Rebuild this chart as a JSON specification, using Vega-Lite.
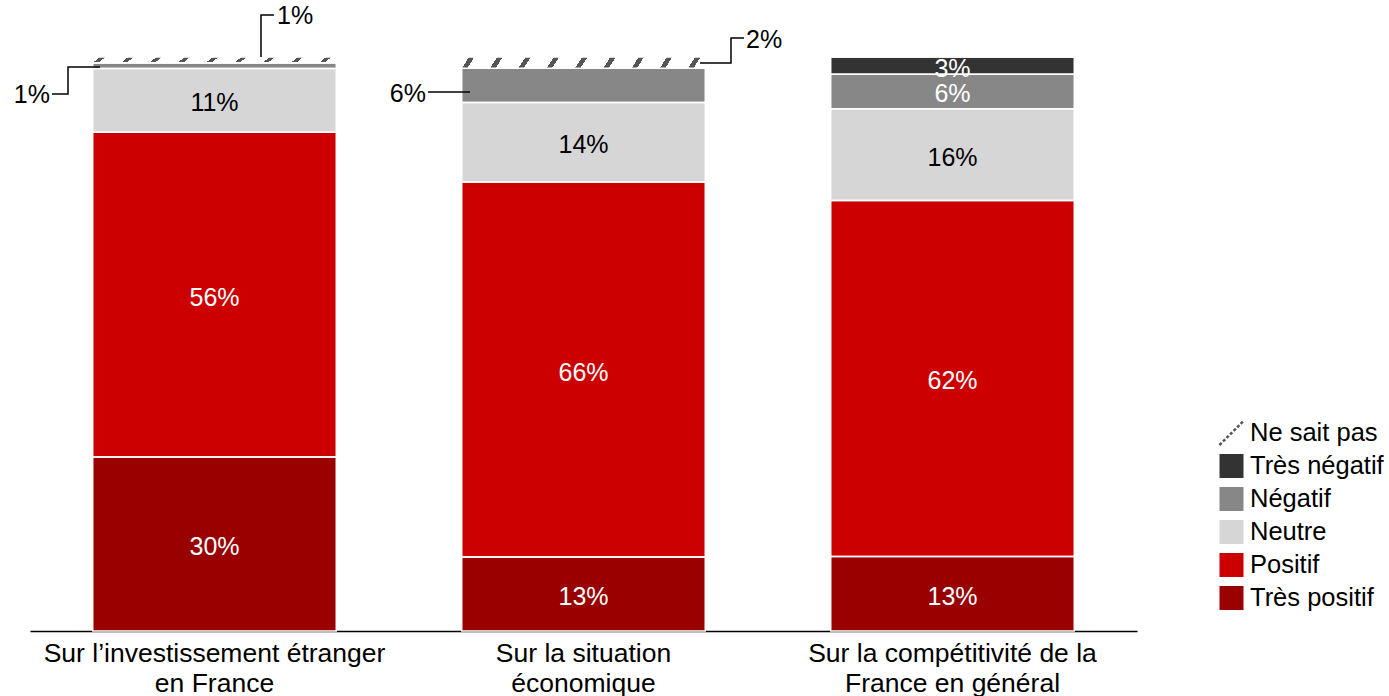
{
  "$schema": "https://vega.github.io/schema/vega-lite/v6.json",
  "width": 1107,
  "height": 574,
  "autosize": "none",
  "padding": {"left": 30, "top": 57, "right": 252, "bottom": 65},
  "background": "white",
  "config": {"view": {"stroke": null}, "font": "Liberation Sans"},
  "datasets": {
    "main": [
      {"q": "Sur l’investissement étranger|en France", "cat": "Très positif", "v": 30},
      {"q": "Sur l’investissement étranger|en France", "cat": "Positif", "v": 56},
      {"q": "Sur l’investissement étranger|en France", "cat": "Neutre", "v": 11},
      {"q": "Sur l’investissement étranger|en France", "cat": "Négatif", "v": 1},
      {"q": "Sur l’investissement étranger|en France", "cat": "Très négatif", "v": 0},
      {"q": "Sur l’investissement étranger|en France", "cat": "Ne sait pas", "v": 1},
      {"q": "Sur la situation|économique", "cat": "Très positif", "v": 13},
      {"q": "Sur la situation|économique", "cat": "Positif", "v": 66},
      {"q": "Sur la situation|économique", "cat": "Neutre", "v": 14},
      {"q": "Sur la situation|économique", "cat": "Négatif", "v": 6},
      {"q": "Sur la situation|économique", "cat": "Très négatif", "v": 0},
      {"q": "Sur la situation|économique", "cat": "Ne sait pas", "v": 2},
      {"q": "Sur la compétitivité de la|France en général", "cat": "Très positif", "v": 13},
      {"q": "Sur la compétitivité de la|France en général", "cat": "Positif", "v": 62},
      {"q": "Sur la compétitivité de la|France en général", "cat": "Neutre", "v": 16},
      {"q": "Sur la compétitivité de la|France en général", "cat": "Négatif", "v": 6},
      {"q": "Sur la compétitivité de la|France en général", "cat": "Très négatif", "v": 3},
      {"q": "Sur la compétitivité de la|France en général", "cat": "Ne sait pas", "v": 0}
    ],
    "leaders": [
      {"id": "A", "i": 0, "u": 0.0596, "w": 0.9355},
      {"id": "A", "i": 1, "u": 0.1030, "w": 0.9355},
      {"id": "A", "i": 2, "u": 0.1030, "w": 0.9826},
      {"id": "A", "i": 3, "u": 0.1897, "w": 0.9826},
      {"id": "B", "i": 0, "u": 0.6260, "w": 1.0},
      {"id": "B", "i": 1, "u": 0.6260, "w": 1.0732},
      {"id": "B", "i": 2, "u": 0.6612, "w": 1.0732},
      {"id": "C", "i": 0, "u": 1.0786, "w": 0.9390},
      {"id": "C", "i": 1, "u": 1.1924, "w": 0.9390},
      {"id": "D", "i": 0, "u": 1.8157, "w": 0.9895},
      {"id": "D", "i": 1, "u": 1.8997, "w": 0.9895},
      {"id": "D", "i": 2, "u": 1.8997, "w": 1.0331},
      {"id": "D", "i": 3, "u": 1.9350, "w": 1.0331}
    ],
    "callouts": [
      {"id": "A", "label": "1%", "u": 0.0542, "w": 0.9338},
      {"id": "B", "label": "1%", "u": 0.6694, "w": 1.0714},
      {"id": "C", "label": "6%", "u": 1.0732, "w": 0.9355},
      {"id": "D", "label": "2%", "u": 1.9404, "w": 1.0296}
    ]
  },
  "layer": [
    {
      "data": {"name": "main"},
      "transform": [
        {"calculate": "indexof(['Très positif','Positif','Neutre','Négatif','Très négatif','Ne sait pas'], datum.cat)", "as": "ord"},
        {"stack": "v", "groupby": ["q"], "sort": [{"field": "ord", "order": "ascending"}], "as": ["y0", "y1"], "offset": "normalize"},
        {"calculate": "(datum.y0 + datum.y1) / 2", "as": "mid"},
        {"calculate": "datum.v + '%'", "as": "lbl"}
      ],
      "encoding": {
        "x": {
          "field": "q", "type": "nominal", "sort": null,
          "scale": {"paddingInner": 0.34, "paddingOuter": 0.17},
          "axis": {
            "title": null, "labelAngle": 0, "ticks": false,
            "labelExpr": "split(datum.value, '|')",
            "labelFontSize": 26.5, "labelColor": "black", "labelFont": "Liberation Sans",
            "labelPadding": 9, "labelLineHeight": 30, "labelLimit": 0, "labelOverlap": false,
            "domainColor": "black", "domainWidth": 1.5
          }
        },
        "y": {"field": "y0", "type": "quantitative", "scale": {"domain": [0, 1], "nice": false, "zero": false}, "axis": null}
      },
      "layer": [
        {
          "mark": {"type": "bar"},
          "encoding": {
            "y2": {"field": "y1"},
            "color": {
              "field": "cat", "type": "nominal",
              "scale": {
                "domain": ["Ne sait pas", "Très négatif", "Négatif", "Neutre", "Positif", "Très positif"],
                "range": ["#ffffff", "#333333", "#878787", "#d6d6d6", "#cc0000", "#990000"]
              },
              "legend": {
                "title": null, "orient": "none", "legendX": 1188, "legendY": 361,
                "padding": 0, "symbolSize": 576, "clipHeight": 30,
                "symbolType": {"expr": "datum.value === 'Ne sait pas' ? 'M-1,1L1,-1' : 'square'"},
                "symbolStrokeColor": {"expr": "datum.value === 'Ne sait pas' ? '#555555' : 'transparent'"},
                "symbolStrokeWidth": 2.5,
                "symbolDash": [3, 2],
                "labelFontSize": 25.5, "labelFont": "Liberation Sans", "labelColor": "black",
                "labelOffset": 5, "rowPadding": 3, "labelLimit": 300,
                "encode": {
                  "symbols": {
                    "update": {
                      "shape": {"signal": "datum.value === 'Ne sait pas' ? 'M-1,1L1,-1' : 'square'"},
                      "stroke": {"signal": "datum.value === 'Ne sait pas' ? '#555555' : 'transparent'"},
                      "strokeWidth": {"value": 2.5},
                      "strokeDash": {"value": [3, 2]}
                    }
                  }
                }
              }
            }
          }
        },
        {
          "mark": {"type": "bar", "fill": "transparent", "stroke": "white", "strokeWidth": 1.5},
          "encoding": {"y2": {"field": "y1"}}
        },
        {
          "transform": [{"filter": "datum.cat === 'Ne sait pas' && datum.v > 0"}],
          "mark": {
            "type": "bar", "stroke": "white", "strokeWidth": 1.5,
            "fill": {
              "gradient": "linear", "x1": 0, "y1": 0, "x2": 1, "y2": 0.03,
              "stops": [
                {"offset": 0, "color": "#ffffff"},
                {"offset": 0.03, "color": "#ffffff"}, {"offset": 0.03, "color": "#555555"}, {"offset": 0.052, "color": "#555555"}, {"offset": 0.052, "color": "#ffffff"},
                {"offset": 0.146, "color": "#ffffff"}, {"offset": 0.146, "color": "#555555"}, {"offset": 0.168, "color": "#555555"}, {"offset": 0.168, "color": "#ffffff"},
                {"offset": 0.262, "color": "#ffffff"}, {"offset": 0.262, "color": "#555555"}, {"offset": 0.284, "color": "#555555"}, {"offset": 0.284, "color": "#ffffff"},
                {"offset": 0.378, "color": "#ffffff"}, {"offset": 0.378, "color": "#555555"}, {"offset": 0.4, "color": "#555555"}, {"offset": 0.4, "color": "#ffffff"},
                {"offset": 0.494, "color": "#ffffff"}, {"offset": 0.494, "color": "#555555"}, {"offset": 0.516, "color": "#555555"}, {"offset": 0.516, "color": "#ffffff"},
                {"offset": 0.61, "color": "#ffffff"}, {"offset": 0.61, "color": "#555555"}, {"offset": 0.632, "color": "#555555"}, {"offset": 0.632, "color": "#ffffff"},
                {"offset": 0.726, "color": "#ffffff"}, {"offset": 0.726, "color": "#555555"}, {"offset": 0.748, "color": "#555555"}, {"offset": 0.748, "color": "#ffffff"},
                {"offset": 0.842, "color": "#ffffff"}, {"offset": 0.842, "color": "#555555"}, {"offset": 0.864, "color": "#555555"}, {"offset": 0.864, "color": "#ffffff"},
                {"offset": 0.958, "color": "#ffffff"}, {"offset": 0.958, "color": "#555555"}, {"offset": 0.98, "color": "#555555"}, {"offset": 0.98, "color": "#ffffff"},
                {"offset": 1, "color": "#ffffff"}
              ]
            }
          },
          "encoding": {"y2": {"field": "y1"}}
        },
        {
          "transform": [{"filter": "datum.v >= 3 && !(datum.q === 'Sur la situation|économique' && datum.cat === 'Négatif')"}],
          "mark": {"type": "text", "fontSize": 25, "font": "Liberation Sans", "baseline": "middle", "align": "center", "dy": 3},
          "encoding": {
            "y": {"field": "mid", "type": "quantitative", "scale": {"domain": [0, 1], "nice": false, "zero": false}},
            "text": {"field": "lbl"},
            "color": {"condition": {"test": "datum.cat === 'Neutre'", "value": "black"}, "value": "white"}
          }
        }
      ]
    },
    {
      "data": {"name": "leaders"},
      "mark": {"type": "line", "color": "black", "strokeWidth": 1.5, "interpolate": "linear"},
      "encoding": {
        "x": {"field": "u", "type": "quantitative", "scale": {"domain": [0, 3], "nice": false, "zero": false}, "axis": null},
        "y": {"field": "w", "type": "quantitative", "scale": {"domain": [0, 1], "nice": false, "zero": false}, "axis": null},
        "detail": {"field": "id"},
        "order": {"field": "i"}
      }
    },
    {
      "data": {"name": "callouts"},
      "transform": [{"filter": "datum.id === 'A' || datum.id === 'C'"}],
      "mark": {"type": "text", "fontSize": 25, "font": "Liberation Sans", "align": "right", "baseline": "middle", "color": "black"},
      "encoding": {
        "x": {"field": "u", "type": "quantitative", "scale": {"domain": [0, 3], "nice": false, "zero": false}, "axis": null},
        "y": {"field": "w", "type": "quantitative", "scale": {"domain": [0, 1], "nice": false, "zero": false}, "axis": null},
        "text": {"field": "label"}
      }
    },
    {
      "data": {"name": "callouts"},
      "transform": [{"filter": "datum.id === 'B' || datum.id === 'D'"}],
      "mark": {"type": "text", "fontSize": 25, "font": "Liberation Sans", "align": "left", "baseline": "middle", "color": "black"},
      "encoding": {
        "x": {"field": "u", "type": "quantitative", "scale": {"domain": [0, 3], "nice": false, "zero": false}, "axis": null},
        "y": {"field": "w", "type": "quantitative", "scale": {"domain": [0, 1], "nice": false, "zero": false}, "axis": null},
        "text": {"field": "label"}
      }
    }
  ],
  "resolve": {"scale": {"x": "independent"}, "axis": {"x": "independent"}}
}
